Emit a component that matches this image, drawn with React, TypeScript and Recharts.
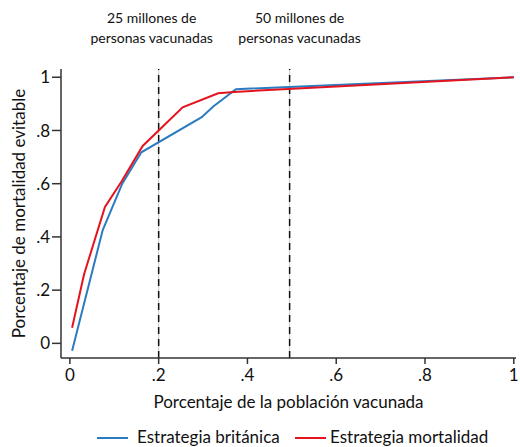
import React from 'react';
import {
  LineChart, Line, XAxis, YAxis, ReferenceLine, Label,
} from 'recharts';

// Estrategia británica
const britanicaX = [0.005, 0.074, 0.118, 0.161, 0.297, 0.323, 0.374, 1.0];
const britanicaY = [-0.028, 0.426, 0.6, 0.718, 0.85, 0.89, 0.955, 1.0];

// Estrategia mortalidad
const mortalidadX = [0.005, 0.032, 0.079, 0.116, 0.164, 0.254, 0.334, 0.37, 1.0];
const mortalidadY = [0.059, 0.26, 0.513, 0.607, 0.742, 0.887, 0.94, 0.945, 1.0];

const xTicks = [0, 0.2, 0.4, 0.6, 0.8, 1];
const yTicks = [0, 0.2, 0.4, 0.6, 0.8, 1];

const vacLines = [
  { x: 0.2, lines: ['25 millones de', 'personas vacunadas'], dx: -7 },
  { x: 0.495, lines: ['50 millones de', 'personas vacunadas'], dx: 10 },
];

const BLUE = '#2b7bc1';
const RED = '#e5131e';
const FONT = 'Lato, "Open Sans", sans-serif';

const toPoints = (xs: number[], ys: number[]) => xs.map((x, i) => ({ x, y: ys[i] }));
const britanica = toPoints(britanicaX, britanicaY);
const mortalidad = toPoints(mortalidadX, mortalidadY);

const fmt = (v: number) => {
  if (v === 0) return '0';
  if (v === 1) return '1';
  return String(Number(v.toFixed(1))).replace('0.', '.');
};

const TopNote = ({ viewBox, lines, dx }: any) => {
  const cx = viewBox.x + dx;
  return (
    <g>
      {lines.map((t: string, i: number) => (
        <text key={i} x={cx} y={23 + i * 20} textAnchor="middle" fontSize={14} fill="#111" fontFamily={FONT}>
          {t}
        </text>
      ))}
    </g>
  );
};

export default function App() {
  return (
    <div style={{ position: 'absolute', left: 0, top: 0, width: 520, height: 447, fontFamily: FONT, background: '#fff' }}>
      <LineChart width={520} height={447} margin={{ top: 69, right: 4, bottom: 0, left: 0 }}>
        <XAxis
          type="number"
          dataKey="x"
          domain={[-0.02, 1.005]}
          allowDataOverflow
          ticks={xTicks}
          tickFormatter={fmt}
          height={89}
          tickSize={6}
          tickMargin={5}
          stroke="#333"
          strokeWidth={1.5}
          tick={{ fill: '#111', fontSize: 17, fontFamily: FONT }}
        >
          <Label
            value="Porcentaje de la población vacunada"
            position="insideBottom"
            offset={39}
            style={{ fontSize: 17, fill: '#111', fontFamily: FONT }}
          />
        </XAxis>
        <YAxis
          type="number"
          domain={[-0.055, 1.031]}
          allowDataOverflow
          ticks={yTicks}
          tickFormatter={fmt}
          width={61}
          tickSize={9}
          tickMargin={2}
          stroke="#333"
          strokeWidth={1.5}
          tick={{ fill: '#111', fontSize: 17, fontFamily: FONT }}
        >
          <Label
            value="Porcentaje de mortalidad evitable"
            angle={-90}
            position="insideLeft"
            offset={19}
            style={{ fontSize: 17, fill: '#111', fontFamily: FONT, textAnchor: 'middle' }}
          />
        </YAxis>
        {vacLines.map((v) => (
          <ReferenceLine key={'g' + v.x} x={v.x} stroke="#c8c8c8" strokeWidth={1} />
        ))}
        {vacLines.map((v) => (
          <ReferenceLine
            key={'d' + v.x}
            x={v.x}
            stroke="#111"
            strokeWidth={1.5}
            strokeDasharray="7 5"
            label={(props: any) => <TopNote {...props} lines={v.lines} dx={v.dx} />}
          />
        ))}
        <Line data={britanica} dataKey="y" type="linear" stroke={BLUE} strokeWidth={2} dot={false} isAnimationActive={false} />
        <Line data={mortalidad} dataKey="y" type="linear" stroke={RED} strokeWidth={2} dot={false} isAnimationActive={false} />
      </LineChart>
      <div style={{ position: 'absolute', top: 427, left: 0, width: 520, height: 20, fontSize: 17, color: '#111' }}>
        <div style={{ position: 'absolute', left: 97, top: 10, width: 31, height: 2, background: BLUE }} />
        <div style={{ position: 'absolute', left: 137, top: 0, lineHeight: '20px', whiteSpace: 'nowrap' }}>Estrategia británica</div>
        <div style={{ position: 'absolute', left: 295, top: 10, width: 31, height: 2, background: RED }} />
        <div style={{ position: 'absolute', left: 330, top: 0, lineHeight: '20px', whiteSpace: 'nowrap' }}>Estrategia mortalidad</div>
      </div>
    </div>
  );
}
